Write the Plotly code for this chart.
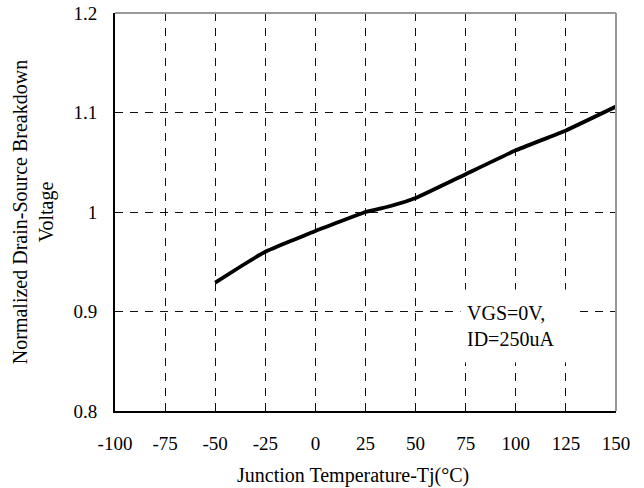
import plotly.graph_objects as go

temps = [-50, -37.5, -25, 0, 25, 37.5, 50, 75, 100, 125, 150]
bvdss_norm = [0.929, 0.945, 0.960, 0.981, 1.000, 1.006, 1.014, 1.038, 1.062, 1.082, 1.106]
x_ticks = [-100, -75, -50, -25, 0, 25, 50, 75, 100, 125, 150]
x_tick_text = ["-100", "-75", "-50", "-25", "0", "25", "50", "75", "100", "125", "150"]
y_ticks = [0.8, 0.9, 1.0, 1.1, 1.2]
y_tick_text = ["0.8", "0.9", "1", "1.1", "1.2"]
note_text = "VGS=0V,<br>ID=250uA"
x_title = "Junction Temperature-Tj(°C)"
y_title = "Normalized Drain-Source Breakdown<br>Voltage"

FONT = "Liberation Serif, DejaVu Serif, serif"

fig = go.Figure()
fig.add_trace(go.Scatter(x=temps, y=bvdss_norm, mode="lines",
                         line=dict(color="black", width=3.8, shape="spline", smoothing=0.3),
                         showlegend=False, hoverinfo="skip"))

fig.add_annotation(x=72, y=0.885, xref="x", yref="y", text=note_text,
                   showarrow=False, xanchor="left", yanchor="middle", align="left",
                   font=dict(family=FONT, size=20, color="black"),
                   bgcolor="white", borderpad=6, width=103, height=60)

# x-axis title (slightly left of centre, as in the reference)
fig.add_annotation(x=0.476, y=0, xref="paper", yref="paper", text=x_title,
                   showarrow=False, xanchor="center", yanchor="middle", yshift=-64,
                   font=dict(family=FONT, size=20, color="black"))

fig.update_layout(
    width=644, height=488,
    margin=dict(l=115, r=28, t=13, b=77),
    paper_bgcolor="white", plot_bgcolor="white",
    font=dict(family=FONT, size=19, color="black"),
)
fig.update_xaxes(range=[-100, 150], tickvals=x_ticks, ticktext=x_tick_text, ticks="",
                 ticklabelstandoff=14, automargin=False,
                 showgrid=True, gridcolor="#111111", gridwidth=1, griddash="8px,7px",
                 showline=True, linecolor="black", linewidth=2, mirror=False,
                 zeroline=False)
fig.update_yaxes(range=[0.8, 1.2], tickvals=y_ticks, ticktext=y_tick_text, ticks="",
                 ticklabelstandoff=12, automargin=False,
                 showgrid=True, gridcolor="#111111", gridwidth=1, griddash="8px,7px",
                 showline=True, linecolor="black", linewidth=2, mirror=False,
                 zeroline=False,
                 title=dict(text=y_title, font=dict(size=20), standoff=14))
# top/right frame (lighter grey)
fig.add_shape(type="line", xref="paper", yref="paper", x0=0, x1=1, y0=1, y1=1,
              line=dict(color="#999999", width=2))
fig.add_shape(type="line", xref="paper", yref="paper", x0=1, x1=1, y0=0, y1=1,
              line=dict(color="#999999", width=2))

fig.write_html("out.html", config={"displayModeBar": False},
               post_script="document.body.style.margin='0';")
